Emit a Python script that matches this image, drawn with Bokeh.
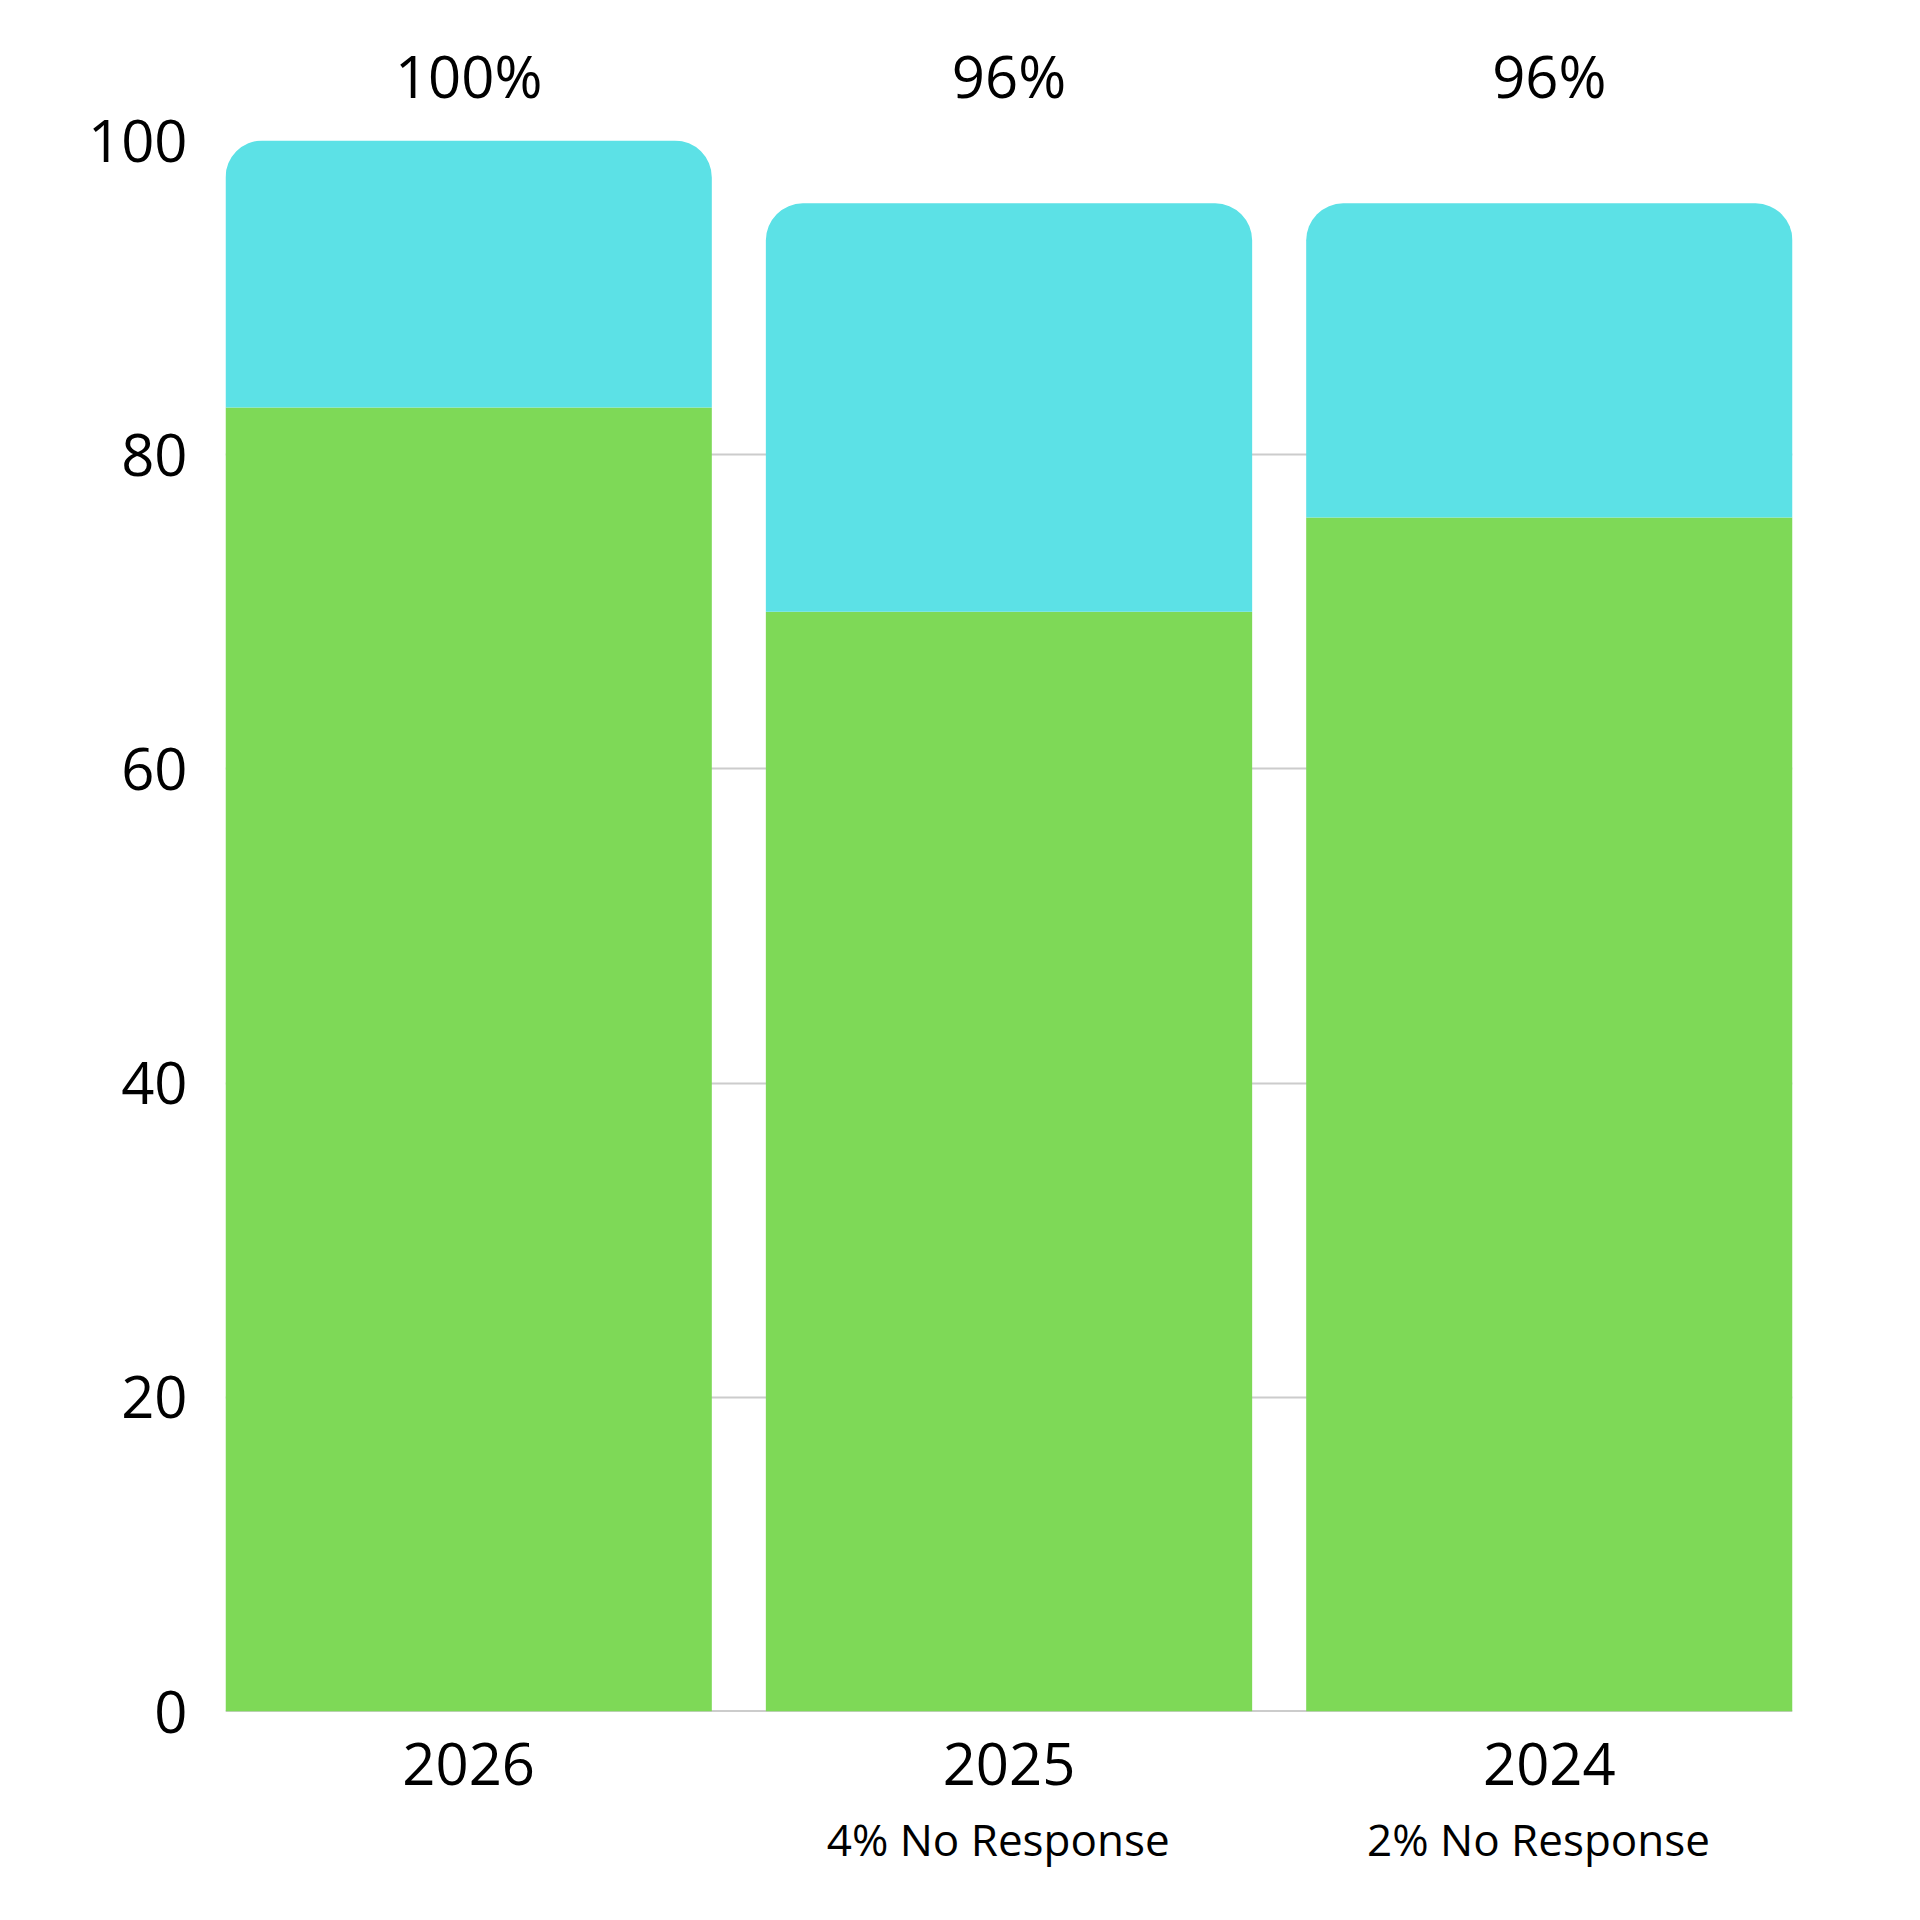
from bokeh.plotting import figure
from bokeh.models import ColumnDataSource, Range1d, FixedTicker, LinearAxis, Span
from bokeh.embed import file_html
from bokeh.resources import INLINE

# ---- data ----
categories = ["2026", "2025", "2024"]
green_values = [83, 70, 76]
cyan_values = [17, 26, 20]
top_labels = ["100%", "96%", "96%"]
sub_labels = ["", "4% No Response", "2% No Response"]
y_ticks = [0, 20, 40, 60, 80, 100]

positions = [i + 1 for i in range(len(categories))]
totals = [g + c for g, c in zip(green_values, cyan_values)]

GREEN = "#7ED957"
CYAN = "#5CE1E6"
FONT = "Open Sans"

src = ColumnDataSource(dict(x=positions, green=green_values, total=totals))

x_start, x_end = 0.55, len(categories) + 0.45
p = figure(
    frame_width=1567, frame_height=1571,
    min_border_left=225, min_border_top=140, min_border_right=100, min_border_bottom=189,
    x_range=Range1d(x_start, x_end),
    y_range=Range1d(0, 100),
    output_backend="svg", toolbar_location=None,
    x_axis_location=None, y_axis_location=None,
)
# subtitles sit slightly left of the bar centres in the reference
p.extra_x_ranges = {"sub": Range1d(x_start + 0.02, x_end + 0.02)}
p.outline_line_color = None
p.background_fill_color = "white"
p.border_fill_color = "white"

# grid
p.xgrid.grid_line_color = None
p.ygrid.grid_line_color = "#cccccc"
p.ygrid.grid_line_width = 2
p.ygrid.ticker = FixedTicker(ticks=y_ticks)
p.add_layout(Span(location=0, dimension="width", line_color="#999999",
                  line_width=2, level="underlay"))

# bars
p.vbar(x="x", top="green", bottom=0, width=0.9, source=src,
       fill_color=GREEN, line_color=None)
p.vbar(x="x", top="total", bottom="green", width=0.9, source=src,
       fill_color=CYAN, line_color=None, border_radius=(37, 37, 0, 0))

def style_axis(ax, size, standoff):
    ax.major_tick_line_color = None
    ax.minor_tick_line_color = None
    ax.axis_line_color = None
    ax.major_label_text_font = FONT
    ax.major_label_text_font_size = size
    ax.major_label_text_color = "black"
    ax.major_label_standoff = standoff

# y axis
yax = LinearAxis(ticker=FixedTicker(ticks=y_ticks))
style_axis(yax, "58px", 32)
p.add_layout(yax, "left")

# x axis (years)
xax = LinearAxis(ticker=FixedTicker(ticks=positions),
                 major_label_overrides={pos: c for pos, c in zip(positions, categories)})
style_axis(xax, "58px", 25)
p.add_layout(xax, "below")

# subtitle axis
sax = LinearAxis(x_range_name="sub", ticker=FixedTicker(ticks=positions),
                 major_label_overrides={pos: s for pos, s in zip(positions, sub_labels)})
style_axis(sax, "44px", 15)
p.add_layout(sax, "below")

# top totals axis
tax = LinearAxis(ticker=FixedTicker(ticks=positions),
                 major_label_overrides={pos: t for pos, t in zip(positions, top_labels)})
style_axis(tax, "58px", 20)
p.add_layout(tax, "above")

open("out.html", "w").write(file_html(p, INLINE))
